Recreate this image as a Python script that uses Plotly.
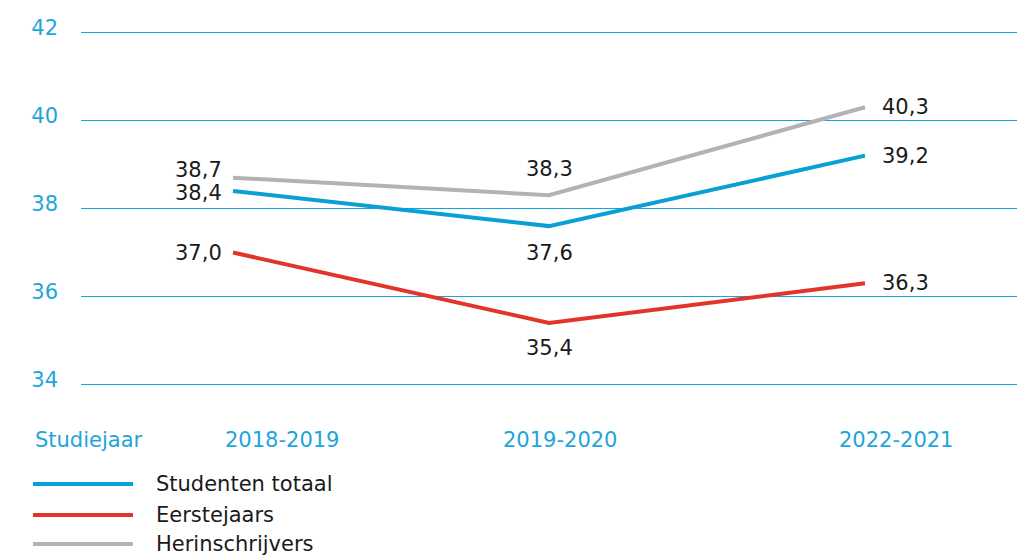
import plotly.graph_objects as go

categories = ["2018-2019", "2019-2020", "2022-2021"]
series_names = ["Studenten totaal", "Eerstejaars", "Herinschrijvers"]
totaal = [38.4, 37.6, 39.2]
eerstejaars = [37.0, 35.4, 36.3]
herinschrijvers = [38.7, 38.3, 40.3]
y_ticks = [34, 36, 38, 40, 42]

colors = {"Studenten totaal": "#0ba0d3", "Eerstejaars": "#e3342c", "Herinschrijvers": "#b3b3b3"}
axis_color = "#1ea5d9"
grid_color = "#12a6dc"
FONT = "DejaVu Sans"
FS = 21

values = {"Studenten totaal": totaal, "Eerstejaars": eerstejaars, "Herinschrijvers": herinschrijvers}

# layout geometry (pixels)
W, H = 1030, 556
ML, MR, MT, MB = 81, 13, 28, 167
PW, PH = W - ML - MR, H - MT - MB


def px_x(px):
    return (px - ML) / PW


def px_y(py):
    return (H - MB - py) / PH


fig = go.Figure()
for name in series_names:
    fig.add_trace(go.Scatter(x=categories, y=values[name], mode="lines", name=name,
                             line=dict(color=colors[name], width=4), showlegend=False,
                             hoverinfo="x+y"))


def fmt(v):
    return f"{v:.1f}".replace(".", ",")


# label placement per series and point: (xanchor, xshift, yshift)
placement = {
    "Herinschrijvers": [("right", -9, 8), ("center", 0, 26), ("left", 15, 0)],
    "Studenten totaal": [("right", -9, -2), ("center", 0, -27), ("left", 15, 0)],
    "Eerstejaars": [("right", -9, 0), ("center", 0, -25), ("left", 15, 0)],
}
annotations = []
for name in series_names:
    for i, (c, v) in enumerate(zip(categories, values[name])):
        xa, xs, ys = placement[name][i]
        annotations.append(dict(x=c, y=v, xref="x", yref="y", text=fmt(v), showarrow=False,
                                xanchor=xa, yanchor="middle", xshift=xs, yshift=ys,
                                font=dict(family=FONT, size=FS, color="#1a1a1a")))

# x category labels (offset as in reference)
x_label_shift = [49, 11, 31]
for c, xs in zip(categories, x_label_shift):
    annotations.append(dict(x=c, y=px_y(440), xref="x", yref="paper", text=c, showarrow=False,
                            xanchor="center", yanchor="middle", xshift=xs,
                            font=dict(family=FONT, size=FS, color=axis_color)))
annotations.append(dict(x=px_x(33), y=px_y(440), xref="paper", yref="paper", text="Studiejaar",
                        showarrow=False, xanchor="left", yanchor="middle",
                        font=dict(family=FONT, size=FS, color=axis_color)))

# custom legend
shapes = []
legend_y = [484, 515, 544]
for name, ly in zip(series_names, legend_y):
    shapes.append(dict(type="line", xref="paper", yref="paper", x0=px_x(33), x1=px_x(133),
                       y0=px_y(ly), y1=px_y(ly), line=dict(color=colors[name], width=4)))
    annotations.append(dict(x=px_x(154), y=px_y(ly), xref="paper", yref="paper", text=name,
                            showarrow=False, xanchor="left", yanchor="middle",
                            font=dict(family=FONT, size=FS, color="#1a1a1a")))

fig.update_layout(
    width=W, height=H,
    margin=dict(l=ML, r=MR, t=MT, b=MB, autoexpand=False),
    paper_bgcolor="white", plot_bgcolor="white",
    font=dict(family=FONT, size=FS, color=axis_color),
    xaxis=dict(type="category", range=[-0.481, 2.481], showticklabels=False, showgrid=False,
               zeroline=False, showline=False, fixedrange=True),
    yaxis=dict(range=[33.9, 42.1], tickvals=y_ticks, ticktext=[str(t) for t in y_ticks],
               showgrid=True, gridcolor=grid_color, gridwidth=1.3, zeroline=False, showline=False,
               tickfont=dict(family=FONT, size=FS, color=axis_color),
               ticklabelstandoff=22, ticklabelshift=-5, fixedrange=True),
    annotations=annotations,
    shapes=shapes,
    showlegend=False,
)

fig.write_html("out.html", config={"displayModeBar": False},
               post_script="document.body.style.margin='0';document.body.style.overflow='hidden';")
